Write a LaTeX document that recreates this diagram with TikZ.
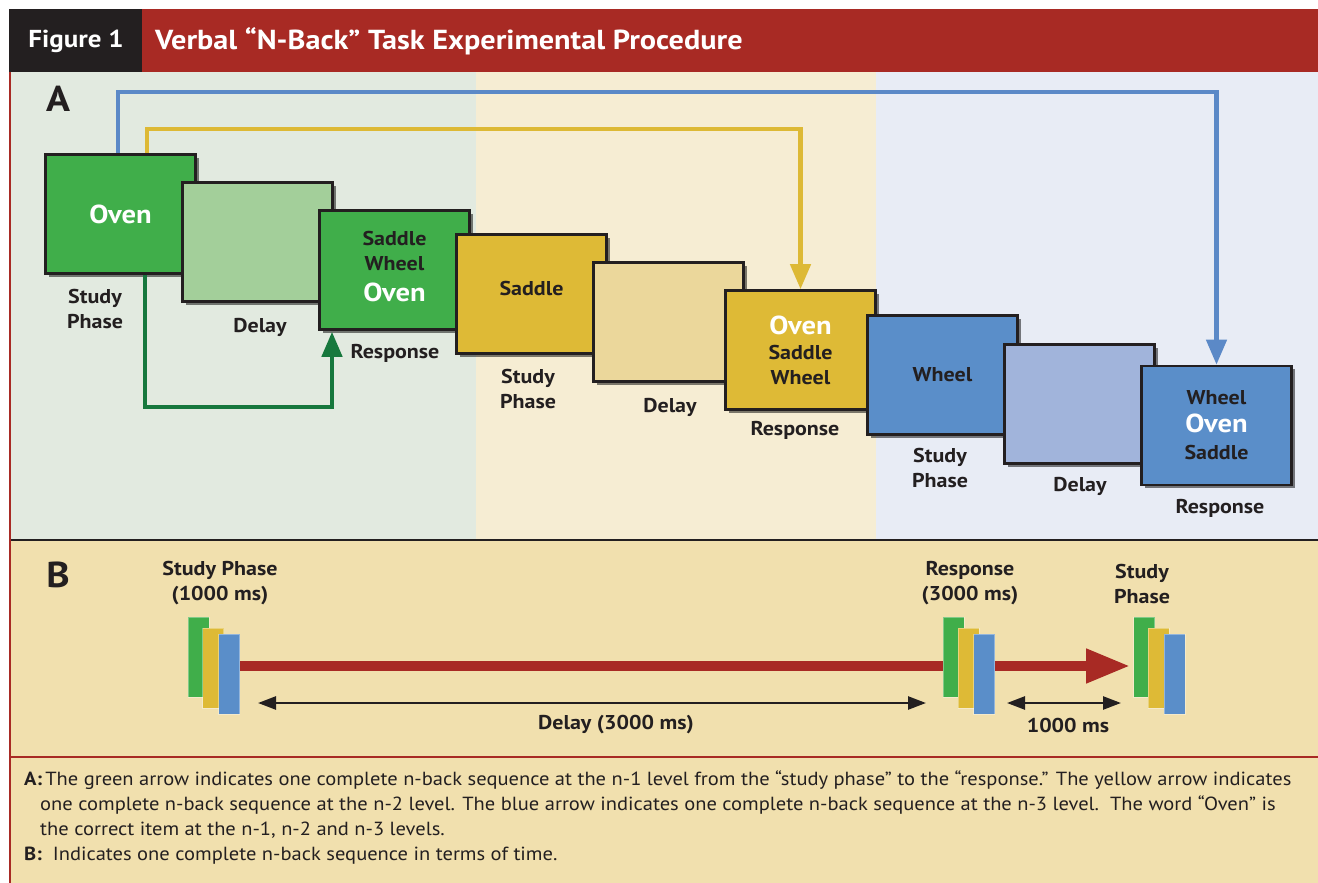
\documentclass[tikz,border=0pt]{standalone}
\usepackage{fontspec}
\setmainfont{PT Sans}
\newfontfamily\lblfam{PT Sans}[FakeStretch=1.1]
\newfontfamily\capfam{PT Sans}[FakeStretch=1.08]
\usetikzlibrary{arrows.meta,shadows}
\pgfdeclarelayer{background}
\pgfsetlayers{background,main}
\definecolor{ink}{HTML}{231F20}
\definecolor{hred}{HTML}{A82A24}
\definecolor{bgAa}{HTML}{E2EAE0}
\definecolor{bgAb}{HTML}{F6EDD3}
\definecolor{bgAc}{HTML}{E8ECF5}
\definecolor{bgB}{HTML}{F1E0AE}
\definecolor{cgreen}{HTML}{40AE4A}
\definecolor{lgreen}{HTML}{A3CF9A}
\definecolor{cyellow}{HTML}{DEBA36}
\definecolor{lyellow}{HTML}{EBD79B}
\definecolor{cblue}{HTML}{5A8EC9}
\definecolor{lblue}{HTML}{A1B4DB}
\definecolor{agreen}{HTML}{17783D}
\definecolor{ablue}{HTML}{5B89C7}
\definecolor{ayellow}{HTML}{DDB935}
\newcommand{\lblfont}{\lblfam\fontsize{20}{25}\selectfont\bfseries}
\newcommand{\bigwhite}[1]{{\fontsize{26}{30}\selectfont\color{white}#1}}
\begin{document}
\begin{tikzpicture}[x=1pt,y=-1pt,
  box/.style={draw=ink, line width=2.6pt, minimum width=150pt, minimum height=119pt,
    inner sep=0pt, align=center, text=ink, font=\lblfont,
    drop shadow={shadow xshift=3pt, shadow yshift=-3pt, opacity=0.5, fill=black}},
  lbl/.style={align=center, text=ink, font=\lblfont, inner sep=0pt},
  arr/.style={line width=4.5pt, -{Triangle[width=20pt,length=25pt]}},
  bar/.style={minimum width=21pt, minimum height=80pt, inner sep=0pt, draw=white, draw opacity=0.35, line width=0.6pt},
  dbl/.style={line width=2.5pt, ink, {Triangle[width=13pt,length=18pt]}-{Triangle[width=13pt,length=18pt]}},
  captxt/.style={anchor=west, text=ink, font=\capfam\fontsize{19}{22}\selectfont, inner sep=0pt}
]
\useasboundingbox (0,0) rectangle (1318,883);
\begin{pgfonlayer}{background}
  \fill[white] (0,0) rectangle (1318,883);
  \fill[bgAa] (11,72) rectangle (476,540);
  \fill[bgAb] (476,72) rectangle (876,540);
  \fill[bgAc] (876,72) rectangle (1318,540);
  \fill[bgB] (11,540) rectangle (1318,883);
\end{pgfonlayer}
% header
\fill[ink] (9,9) rectangle (142,72);
\fill[hred] (142,9) rectangle (1318,72);
\node[text=white, font=\lblfam\fontsize{24.5}{28}\selectfont\bfseries, inner sep=0pt] (fig) at (76,41) {Figure 1};
\node[anchor=west, text=white, font=\lblfam\fontsize{27.5}{30}\selectfont\bfseries, inner sep=0pt] (title) at (155,41) {Verbal “N-Back” Task Experimental Procedure};
% borders
\draw[hred, line width=2.2pt] (10,72) -- (10,883);
\draw[ink, line width=2.5pt] (11,540) -- (1318,540);
\draw[hred, line width=2.5pt] (11,757) -- (1318,757);
% panel letters
\node[lbl, font=\lblfam\fontsize{36}{38}\selectfont\bfseries] (la) at (58,99) {A};
\node[lbl, font=\lblfam\fontsize{36}{38}\selectfont\bfseries] (lb) at (58,575) {B};
% boxes
\node[box, fill=cgreen] (s1) at (120.5,214) {\bigwhite{Oven}};
\node[box, fill=lgreen] (d1) at (257.5,242) {};
\node[box, fill=cgreen, text depth=7pt] (r1) at (394.5,270) {Saddle\\Wheel\\[6pt]\bigwhite{Oven}};
\node[box, fill=cyellow, text depth=12pt] (s2) at (531.5,294) {Saddle};
\node[box, fill=lyellow] (d2) at (668.5,322) {};
\node[box, fill=cyellow] (r2) at (800.5,350) {\bigwhite{Oven}\\Saddle\\Wheel};
\node[box, fill=cblue] (s3) at (942.5,375) {Wheel};
\node[box, fill=lblue] (d3) at (1079.5,404) {};
\node[box, fill=cblue] (r3) at (1216.5,425.5) {Wheel\\[3pt]\bigwhite{Oven}\\[2pt]Saddle};
% labels A
\node[lbl] (ls1) at (95,308.5) {Study\\Phase};
\node[lbl] (ld1) at (260,327) {Delay};
\node[lbl] (lr1) at (395,353) {Response};
\node[lbl] (ls2) at (528,388.5) {Study\\Phase};
\node[lbl] (ld2) at (670,407) {Delay};
\node[lbl] (lr2) at (795,430) {Response};
\node[lbl] (ls3) at (940,468) {Study\\Phase};
\node[lbl] (ld3) at (1080,486) {Delay};
\node[lbl] (lr3) at (1220,508) {Response};
% arrows A
\draw[arr, ablue] ([xshift=-2.5pt]s1.north) -- ++(0,-61) -| (r3.north);
\draw[arr, ayellow] ([xshift=26.5pt]s1.north) -- ++(0,-24) -| (r2.north);
\draw[arr, agreen] ([xshift=24.5pt]s1.south) -- ++(0,132) -| ([xshift=-62.5pt,yshift=-1pt]r1.south);
% panel B labels
\node[lbl] (bl1) at (220,583.5) {Study Phase\\(1000 ms)};
\node[lbl] (bl2) at (970,583.5) {Response\\(3000 ms)};
\node[lbl] (bl3) at (1142,583.5) {Study\\Phase};
% bars
\node[bar, fill=cgreen] (g1) at (198.5,657) {};
\node[bar, fill=cyellow] (y1) at (213,668) {};
\node[bar, fill=cblue] (b1) at (229,674) {};
\node[bar, fill=cgreen] (g2) at (953.5,657) {};
\node[bar, fill=cyellow] (y2) at (968.5,668) {};
\node[bar, fill=cblue] (b2) at (984,674) {};
\node[bar, fill=cgreen] (g3) at (1144,657) {};
\node[bar, fill=cyellow] (y3) at (1158.5,668) {};
\node[bar, fill=cblue] (b3) at (1174.5,674) {};
\begin{pgfonlayer}{background}
  \draw[hred, line width=10pt, -{Triangle[width=32pt,length=44pt]}, shorten >=3pt] (b1.east |- 0,666) -- (g3.west |- 0,666);
\end{pgfonlayer}
% timing arrows
\coordinate (da) at (258,703);
\coordinate (db) at (926,703);
\coordinate (dc) at (1007,703);
\coordinate (dd) at (1121,703);
\draw[dbl] (da) -- (db);
\draw[dbl] (dc) -- (dd);
\node[lbl] (dl1) at (616,725) {Delay (3000 ms)};
\node[lbl] (dl2) at (1068,725) {1000 ms};
% caption
\node[captxt] (c1) at (24,780) {\textbf{A:}\,The green arrow indicates one complete n-back sequence at the n-1 level from the “study phase” to the “response.” The yellow arrow indicates};
\node[captxt] (c2) at (40,805) {one complete n-back sequence at the n-2 level. The blue arrow indicates one complete n-back sequence at the n-3 level.\ \ The word “Oven” is};
\node[captxt] (c3) at (40,830) {the correct item at the n-1, n-2 and n-3 levels.};
\node[captxt] (c4) at (24,856) {\textbf{B:}\ \ Indicates one complete n-back sequence in terms of time.};
\end{tikzpicture}
\end{document}
